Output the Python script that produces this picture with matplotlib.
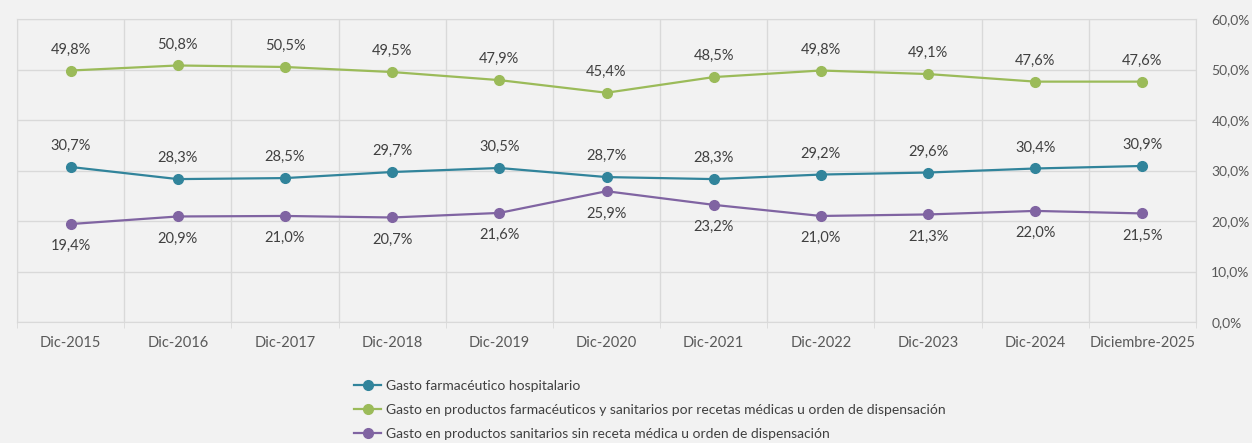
import numpy as np
import matplotlib.pyplot as plt
from matplotlib.ticker import FixedLocator, FuncFormatter

plt.rcParams['font.family'] = ['Lato', 'DejaVu Sans']

categorias = ['Dic-2015', 'Dic-2016', 'Dic-2017', 'Dic-2018', 'Dic-2019', 'Dic-2020',
              'Dic-2021', 'Dic-2022', 'Dic-2023', 'Dic-2024', 'Diciembre-2025']
hospitalario = [30.7, 28.3, 28.5, 29.7, 30.5, 28.7, 28.3, 29.2, 29.6, 30.4, 30.9]
recetas = [49.8, 50.8, 50.5, 49.5, 47.9, 45.4, 48.5, 49.8, 49.1, 47.6, 47.6]
sin_receta = [19.4, 20.9, 21.0, 20.7, 21.6, 25.9, 23.2, 21.0, 21.3, 22.0, 21.5]

nombres = ['Gasto farmacéutico hospitalario',
           'Gasto en productos farmacéuticos y sanitarios por recetas médicas u orden de dispensación',
           'Gasto en productos sanitarios sin receta médica u orden de dispensación']
colores = ['#31849b', '#9bbb59', '#8064a2']

bg = '#f2f2f2'
fig = plt.figure(figsize=(12.52, 4.43), dpi=100, facecolor=bg)
ax = fig.add_axes([0.01358, 0.2731, 0.9553 - 0.01358, 0.9571 - 0.2731])
ax.set_facecolor(bg)

x = np.arange(len(categorias))
series = [hospitalario, recetas, sin_receta]
offsets = [15, 15, -16]
for vals, col, nom, off in zip(series, colores, nombres, offsets):
    ax.plot(x, vals, color=col, lw=1.6, marker='o', ms=7, label=nom, zorder=3)
    for xi, v in zip(x, vals):
        ax.annotate(f'{v:.1f}%'.replace('.', ','), (xi, v), xytext=(0, off),
                    textcoords='offset points', ha='center', va='center',
                    fontsize=10.5, color='#404040')

ax.set_xlim(-0.5, len(categorias) - 0.5)
ax.set_ylim(0, 60)
ax.set_xticks(x)
ax.set_xticklabels(categorias, fontsize=10.5, color='#595959')
ax.xaxis.set_minor_locator(FixedLocator(np.arange(-0.5, len(categorias), 1)))
ax.tick_params(axis='x', which='major', length=0, pad=10)
ax.tick_params(axis='x', which='minor', length=4, color='#d9d9d9')
ax.yaxis.tick_right()
ax.set_yticks(np.arange(0, 61, 10))
ax.yaxis.set_major_formatter(FuncFormatter(lambda v, p: f'{v:.1f}%'.replace('.', ',')))
ax.tick_params(axis='y', length=0, pad=11, labelsize=10, labelcolor='#595959')
ax.grid(True, axis='y', color='#d9d9d9', lw=1)
ax.grid(True, axis='x', which='minor', color='#d9d9d9', lw=1)
ax.set_axisbelow(True)
for s in ax.spines.values():
    s.set_color('#d9d9d9')

fig.legend(loc='upper left', bbox_to_anchor=(0.278, 0.155), frameon=False,
           fontsize=10, labelcolor='#404040', handlelength=2.0, handletextpad=0.3,
           labelspacing=0.85, borderaxespad=0)

fig.savefig('out.png', dpi=100, facecolor=bg)
